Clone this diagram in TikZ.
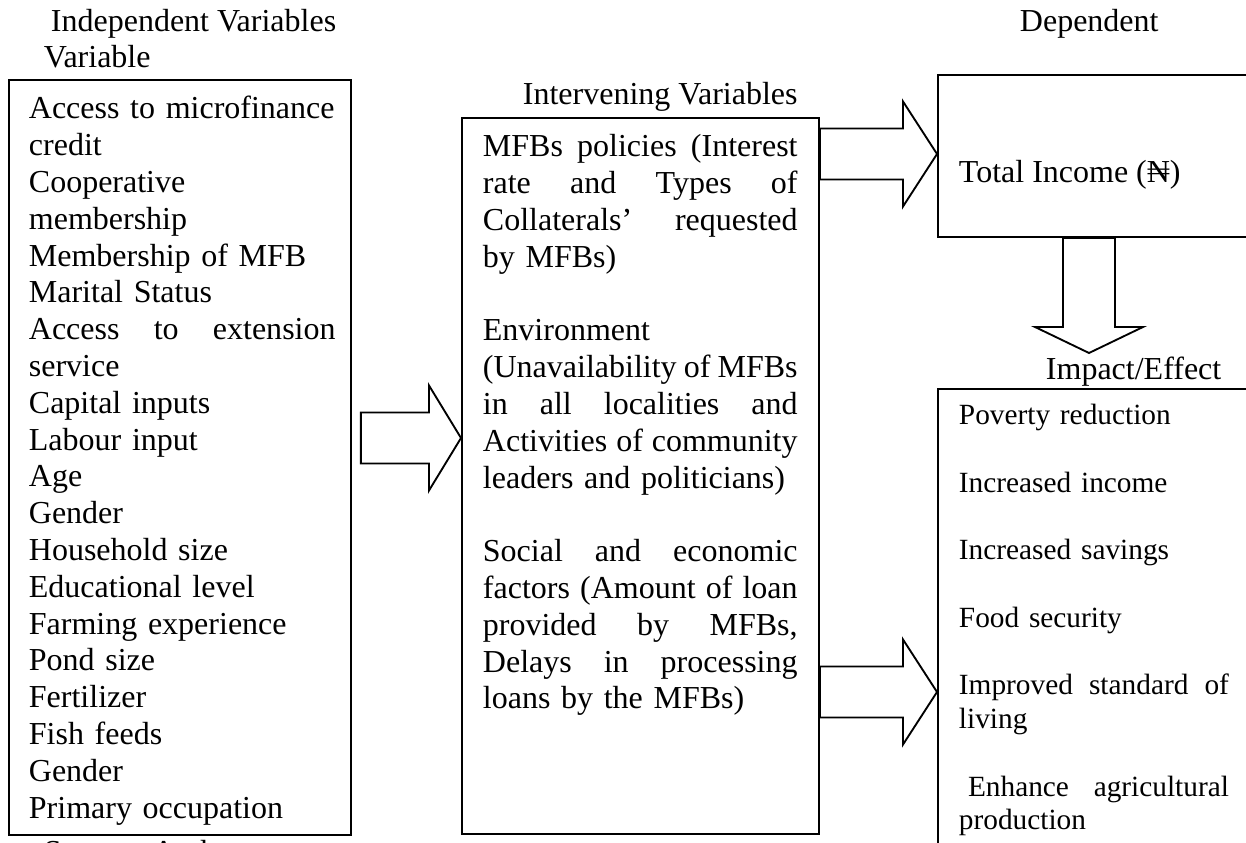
\documentclass[tikz,border=0pt]{standalone}
\usepackage{fontspec}
\setmainfont{Liberation Serif}
\usetikzlibrary{calc}
\def\pxu{0.375pt}
\def\jline[#1]#2{\leavevmode\hbox to #1{\frenchspacing\spaceskip=\fontdimen2\font plus 1fil minus .6\fontdimen2\font\relax #2}}
\newcommand\naira{\iffontchar\font"20A6\relax\char"20A6\relax\else\rlap{N}\raisebox{.3em}{\rule{.72em}{.05em}}\fi}
\def\rightblock(#1)(#2)(#3){\draw[blockline] ($(#1)+(0,-25.5)$) -- ($(#2)+(-#3,-25.5)$) -- ($(#2)+(-#3,-52.5)$) -- (#2) -- ($(#2)+(-#3,52.5)$) -- ($(#2)+(-#3,25.5)$) -- ($(#1)+(0,25.5)$) -- cycle;}
\def\downblock(#1)(#2)(#3){\draw[blockline] ($(#1)+(-26,0)$) -- ($(#2)+(-26,-#3)$) -- ($(#2)+(-54,-#3)$) -- (#2) -- ($(#2)+(54,-#3)$) -- ($(#2)+(26,-#3)$) -- ($(#1)+(26,0)$) -- cycle;}

\begin{document}
\begin{tikzpicture}[x=0.375pt, y=-0.375pt, line width=0.7pt,
	box/.style={draw, rectangle, inner sep=0pt, anchor=north west},
	blockline/.style={line width=0.7pt, line join=miter},
	head/.style={inner sep=0pt, anchor=base west, font=\fontsize{12pt}{13.8pt}\selectfont},
	bigtext/.style={head, text width=130pt, align=left},
	smalltext/.style={inner sep=0pt, anchor=base west, text width=110pt, align=left, font=\fontsize{11pt}{12.65pt}\selectfont}]
			%%%%% START %%%%%
			
			\useasboundingbox (0,0) rectangle (1246,843);
			
			% headings
			\node[head] (indephead) at (50,32) {Independent Variables};
			\node[head] (indephead2) at (43,68) {Variable};
			\node[head] (inthead) at (522,105) {Intervening Variables};
			\node[head] (dephead) at (1019,32) {Dependent};
			\node[head] (imphead) at (1045,380) {Impact/Effect};
			\node[head] (source) at (43,862) {Source: Author};
			
			% boxes
			\node[box, minimum width=342*\pxu, minimum height=755*\pxu] (indepbox) at (8,79) {};
			\node[box, minimum width=357*\pxu, minimum height=716*\pxu] (intbox) at (461,117) {};
			\node[box, minimum width=363*\pxu, minimum height=162*\pxu] (incomebox) at (937,74) {};
			\node[box, minimum width=363*\pxu, minimum height=512*\pxu] (impactbox) at (937,388) {};
			
			% box contents
			\node[bigtext] (indeplist) at (28,119) {Access to microfinance\\ credit\\ Cooperative\\ membership\\ Membership of MFB\\ Marital Status\\ \jline[115pt]{Access to extension}\\ service\\ Capital inputs\\ Labour input\\ Age\\ Gender\\ Household size\\ Educational level\\ Farming experience\\ Pond size\\ Fertilizer\\ Fish feeds\\ Gender\\ Primary occupation};
			
			\node[bigtext] (intlist) at (482,157) {\jline[118pt]{MFBs policies (Interest}\\ \jline[118pt]{rate and Types of}\\ \jline[118pt]{Collaterals’ requested}\\ by MFBs)\\[13.8pt] Environment\\ \jline[118pt]{(Unavailability of MFBs}\\ \jline[118pt]{in all localities and}\\ \jline[118pt]{Activities of community}\\ leaders and politicians)\\[13.8pt] \jline[118pt]{Social and economic}\\ \jline[118pt]{factors (Amount of loan}\\ \jline[118pt]{provided by MFBs,}\\ \jline[118pt]{Delays in processing}\\ loans by the MFBs)};
			
			\node[head] (income) at (958,183) {Total Income (\naira)};
			
			\node[smalltext] (implist) at (958,425) {Poverty reduction\\[12.65pt] Increased income\\[12.65pt] Increased savings\\[12.65pt] Food security\\[12.65pt] \jline[101.25pt]{Improved standard of}\\ living\\[12.65pt] \jline[101.25pt]{\hspace*{3.4pt}Enhance agricultural}\\ production};
			
			% block arrows
			\coordinate (a1tail) at ($(indepbox.east |- 0,438)+(9,0)$);
			\coordinate (a1tip) at (intbox.west |- 0,438);
			\rightblock(a1tail)(a1tip)(32)
			
			\coordinate (a2tail) at (intbox.east |- 0,154);
			\coordinate (a2tip) at (incomebox.west |- 0,154);
			\rightblock(a2tail)(a2tip)(34)
			
			\coordinate (a3tail) at (intbox.east |- 0,692);
			\coordinate (a3tip) at (impactbox.west |- 0,692);
			\rightblock(a3tail)(a3tip)(34)
			
			\coordinate (a4tail) at (incomebox.south -| 1089,0);
			\coordinate (a4tip) at (1089,353);
			\downblock(a4tail)(a4tip)(26)
			
			%%%%% END %%%%%
\end{tikzpicture}
\end{document}
